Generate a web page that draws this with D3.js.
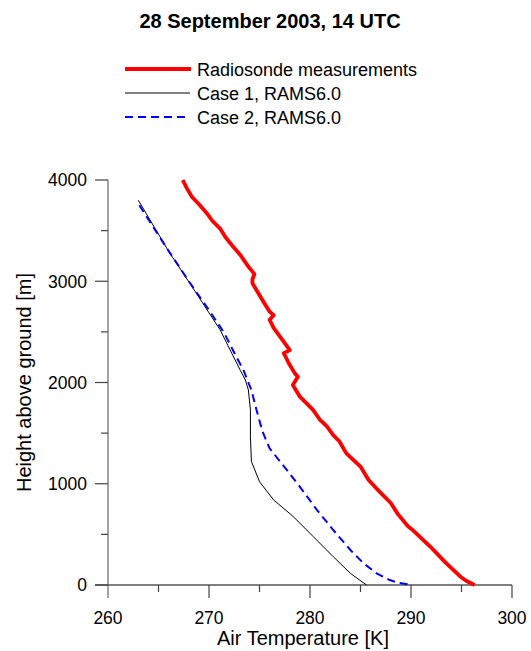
<!DOCTYPE html>
<html>
<head>
<meta charset="utf-8">
<script src="https://cdn.jsdelivr.net/npm/d3@7"></script>
<style>
  body { margin: 0; background: #fff; }
  svg { display: block; font-family: "Liberation Sans", Arial, sans-serif; }
</style>
</head>
<body>
<svg id="chart" width="531" height="651"></svg>
<script>
// ---- Data (height above ground [m], air temperature [K]) ----
const radiosondeHeight = [4000, 3920, 3835, 3750, 3670, 3600, 3520, 3440, 3340, 3260, 3145, 3070, 3020, 2980, 2880, 2780, 2700, 2665, 2620, 2540, 2390, 2320, 2290, 2190, 2090, 2057, 1975, 1860, 1730, 1630, 1563, 1480, 1420, 1300, 1170, 1037, 910, 810, 700, 580, 540, 380, 214, 82, 40, 0];
const radiosondeTemp   = [267.4, 267.8, 268.3, 269.1, 269.8, 270.3, 271.1, 271.6, 272.4, 273.1, 273.9, 274.5, 274.3, 274.3, 274.9, 275.5, 276.0, 276.4, 276.0, 276.4, 277.5, 278.0, 277.4, 277.9, 278.5, 278.8, 278.3, 279.0, 280.3, 281.0, 281.7, 282.3, 282.9, 283.6, 285.0, 285.8, 287.0, 288.0, 288.7, 289.7, 290.2, 291.9, 293.5, 294.9, 295.5, 296.3];

const case1Height = [3800, 3280, 2980, 2520, 2320, 2120, 2025, 1926, 1730, 1470, 1220, 1020, 840, 680, 480, 280, 115, 0];
const case1Temp   = [263.0, 266.1, 268.1, 271.1, 272.1, 273.1, 273.6, 273.9, 274.1, 274.1, 274.2, 275.0, 276.4, 278.3, 280.3, 282.3, 284.0, 285.6];

const case2Height = [3750, 3300, 3000, 2700, 2490, 2255, 2124, 1975, 1926, 1730, 1515, 1350, 1136, 970, 740, 543, 346, 214, 115, 49, 23, 7, 0];
const case2Temp   = [263.1, 266.0, 268.0, 270.1, 271.5, 272.7, 273.4, 274.0, 274.2, 274.7, 275.3, 276.0, 277.7, 279.0, 280.7, 282.3, 284.0, 285.3, 286.6, 287.9, 288.7, 289.7, 290.1];

const xTicks = [260, 270, 280, 290, 300];
const xMinorTicks = [265, 275, 285, 295];
const yTicks = [0, 1000, 2000, 3000, 4000];
const yMinorTicks = [500, 1500, 2500, 3500];

const seriesNames = ["Radiosonde measurements", "Case 1, RAMS6.0", "Case 2, RAMS6.0"];
const titleText = "28 September 2003, 14 UTC";

// ---- Layout ----
const svg = d3.select("#chart");
const x = d3.scaleLinear().domain([260, 300]).range([108, 512]);
const y = d3.scaleLinear().domain([0, 4000]).range([585, 180]);

// Title
svg.append("text").attr("x", 270).attr("y", 28)
  .attr("text-anchor", "middle").attr("font-size", 20).attr("font-weight", "bold")
  .text(titleText);

// Axes
svg.append("line").attr("x1", 95).attr("x2", x(300)).attr("y1", y(0)).attr("y2", y(0))
  .attr("stroke", "#000").attr("stroke-width", 1);
svg.append("line").attr("x1", x(260)).attr("x2", x(260)).attr("y1", y(4000)).attr("y2", 598)
  .attr("stroke", "#666").attr("stroke-width", 1.2);

const g = svg.append("g");
g.selectAll(".xt").data(xTicks.slice(1)).enter().append("line")
  .attr("x1", d => x(d)).attr("x2", d => x(d)).attr("y1", y(0)).attr("y2", y(0) + 13)
  .attr("stroke", "#444").attr("stroke-width", 1.2);
g.selectAll(".xm").data(xMinorTicks).enter().append("line")
  .attr("x1", d => x(d)).attr("x2", d => x(d)).attr("y1", y(0)).attr("y2", y(0) + 7)
  .attr("stroke", "#444").attr("stroke-width", 1.2);
g.selectAll(".xl").data(xTicks).enter().append("text")
  .attr("x", d => x(d)).attr("y", 624).attr("text-anchor", "middle").attr("font-size", 17.5)
  .text(d => d);

g.selectAll(".yt").data(yTicks).enter().append("line")
  .attr("x1", 95).attr("x2", x(260)).attr("y1", d => y(d)).attr("y2", d => y(d))
  .attr("stroke", "#444").attr("stroke-width", 1.2);
g.selectAll(".ym").data(yMinorTicks).enter().append("line")
  .attr("x1", 101).attr("x2", x(260)).attr("y1", d => y(d)).attr("y2", d => y(d))
  .attr("stroke", "#444").attr("stroke-width", 1.2);
g.selectAll(".yl").data(yTicks).enter().append("text")
  .attr("x", 87).attr("y", d => y(d)).attr("dy", "0.36em").attr("text-anchor", "end").attr("font-size", 17.5)
  .text(d => d);

// Axis labels
svg.append("text").attr("x", 303).attr("y", 645).attr("text-anchor", "middle").attr("font-size", 20)
  .text("Air Temperature [K]");
svg.append("text").attr("transform", "translate(31," + y(2000) + ") rotate(-90)")
  .attr("text-anchor", "middle").attr("font-size", 20)
  .text("Height above ground [m]");

// Lines
const line = d3.line().x(d => x(d[1])).y(d => y(d[0]));
const zip = (h, t) => h.map((v, i) => [v, t[i]]);

svg.append("path").datum(zip(case1Height, case1Temp)).attr("d", line)
  .attr("fill", "none").attr("stroke", "#000").attr("stroke-width", 1);
svg.append("path").datum(zip(case2Height, case2Temp)).attr("d", line)
  .attr("fill", "none").attr("stroke", "#0000ff").attr("stroke-width", 2).attr("stroke-dasharray", "8,5");
svg.append("path").datum(zip(radiosondeHeight, radiosondeTemp)).attr("d", line)
  .attr("fill", "none").attr("stroke", "#ff0000").attr("stroke-width", 3.8).attr("stroke-linejoin", "round");

// Legend
const legendStyles = [
  { stroke: "#ff0000", width: 4, dash: null, x2: 191 },
  { stroke: "#000", width: 1, dash: null, x2: 190 },
  { stroke: "#0000ff", width: 2, dash: "8,5", x2: 186 }
];
const leg = svg.append("g");
seriesNames.forEach((name, i) => {
  const ly = 69 + i * 24;
  const s = legendStyles[i];
  leg.append("line").attr("x1", 125).attr("x2", s.x2).attr("y1", ly).attr("y2", ly)
    .attr("stroke", s.stroke).attr("stroke-width", s.width).attr("stroke-dasharray", s.dash);
  leg.append("text").attr("x", 197).attr("y", ly + 7).attr("font-size", 18).text(name);
});
</script>
</body>
</html>
